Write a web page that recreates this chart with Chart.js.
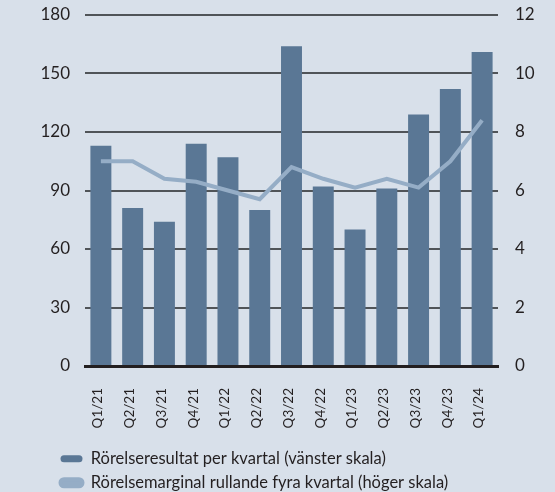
<!DOCTYPE html>
<html>
<head>
<meta charset="utf-8">
<script src="https://cdn.jsdelivr.net/npm/chart.js@4.4.1/dist/chart.umd.min.js"></script>
<style>
  html, body { margin: 0; padding: 0; background: #d8e0ea; }
  #wrap { width: 555px; height: 492px; }
</style>
</head>
<body>
<div id="wrap"><canvas id="chart"></canvas></div>
<script>
// Kvartal och värden
const quarters = ['Q1/21', 'Q2/21', 'Q3/21', 'Q4/21', 'Q1/22', 'Q2/22', 'Q3/22', 'Q4/22', 'Q1/23', 'Q2/23', 'Q3/23', 'Q4/23', 'Q1/24'];
const operatingProfit = [113, 81, 74, 114, 107, 80, 164, 92, 70, 91, 129, 142, 161];
const operatingMargin = [7.0, 7.0, 6.4, 6.3, 6.0, 5.7, 6.8, 6.4, 6.1, 6.4, 6.1, 7.0, 8.4];
const leftTicks = [0, 30, 60, 90, 120, 150, 180];
const rightTicks = [0, 2, 4, 6, 8, 10, 12];

const font = 'Lato';
const textColor = '#231f20';

// flytta legenden så att den börjar vid x=53 och hamnar längst ned
const legendShift = {
  id: 'legendShift',
  afterLayout(chart) {
    const lg = chart.legend;
    if (!lg) return;
    lg.left += 53;
    lg.right += 53;
    lg.top += 9;
    lg.bottom += 9;
  }
};

new Chart(document.getElementById('chart').getContext('2d'), {
  type: 'bar',
  data: {
    labels: quarters,
    datasets: [
      {
        type: 'line',
        label: 'Rörelsemarginal rullande fyra kvartal (höger skala)',
        data: operatingMargin,
        yAxisID: 'y1',
        borderColor: '#95adc6',
        backgroundColor: '#95adc6',
        borderWidth: 4,
        pointRadius: 0,
        tension: 0,
        fill: false,
        order: 0
      },
      {
        label: 'Rörelseresultat per kvartal (vänster skala)',
        data: operatingProfit,
        yAxisID: 'y',
        backgroundColor: '#5a7795',
        borderWidth: 0,
        categoryPercentage: 0.66,
        barPercentage: 1,
        order: 1
      }
    ]
  },
  options: {
    responsive: true,
    maintainAspectRatio: false,
    animation: false,
    layout: { padding: 0 },
    scales: {
      x: {
        grid: { display: false, drawTicks: false },
        border: { display: true, color: '#231f20', width: 3, z: 1 },
        ticks: {
          color: textColor,
          font: { family: font, size: 13.5 },
          minRotation: 90,
          maxRotation: 90,
          padding: 22,
          labelOffset: -3
        },
        afterFit: (axis) => { axis.height = 68; }
      },
      y: {
        position: 'left',
        min: 0,
        max: 180,
        afterBuildTicks: (axis) => { axis.ticks = leftTicks.map(v => ({ value: v })); },
        afterFit: (axis) => { axis.width = 85; axis.paddingTop = 15; axis.paddingBottom = 15; },
        border: { display: false },
        grid: {
          display: true,
          drawTicks: false,
          color: '#505458',
          lineWidth: 2
        },
        ticks: {
          color: textColor,
          font: { family: font, size: 17 },
          padding: 15
        }
      },
      y1: {
        position: 'right',
        min: 0,
        max: 12,
        afterBuildTicks: (axis) => { axis.ticks = rightTicks.map(v => ({ value: v })); },
        afterFit: (axis) => { axis.width = 57; axis.paddingTop = 15; axis.paddingBottom = 15; },
        border: { display: false },
        grid: { display: false, drawTicks: false },
        ticks: {
          color: textColor,
          font: { family: font, size: 17 },
          padding: 17
        }
      }
    },
    plugins: {
      tooltip: { enabled: false },
      legend: {
        position: 'bottom',
        align: 'start',
        reverse: true,
        labels: {
          color: textColor,
          font: { family: font, size: 16.5 },
          boxWidth: 22,
          boxHeight: 7,
          useBorderRadius: true,
          borderRadius: 3.5,
          padding: 7.5
        }
      }
    }
  },
  plugins: [legendShift]
});
</script>
</body>
</html>
